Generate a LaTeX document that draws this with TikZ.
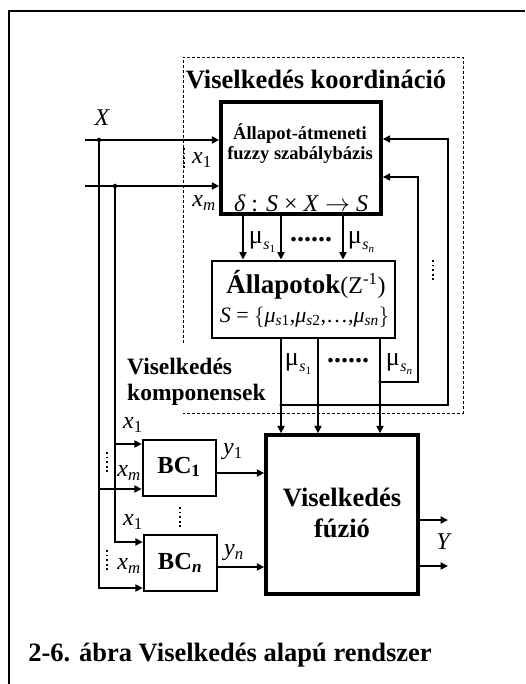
\documentclass[tikz,border=0pt]{standalone}
\usepackage{fontspec}
\setmainfont{Liberation Serif}
\usetikzlibrary{arrows.meta}
\newcommand\fsz[1]{\fontsize{#1}{#1}\selectfont}
\newcommand\sbs[1]{\textsubscript{#1}}
\newcommand\mulab[1]{μ\kern0.5pt\raisebox{-0.22em}{\fsz{16}\textit{s}\raisebox{-0.2em}{\fsz{11}#1}}}
\begin{document}
\begin{tikzpicture}[x=1pt,y=-1pt,
  conn/.style={line width=2.6pt},
  arr/.style={line width=2.6pt,-{Triangle[length=7.5pt,width=7pt]}},
  blk/.style={draw,line width=3.4pt,inner sep=0pt},
  mblk/.style={draw,line width=2.8pt,inner sep=0pt},
  sblk/.style={draw,line width=2.4pt,inner sep=0pt},
  jdot/.style={circle,fill,inner sep=0pt,minimum size=4.5pt},
  lbl/.style={inner sep=0pt},
  vdots/.style={line width=1.8pt,dash pattern=on 1.8pt off 2.8pt},
  frame/.style={line width=1.5pt},
  dbox/.style={line width=0.8pt,dash pattern=on 3pt off 2pt}]
\useasboundingbox (0,0) rectangle (525,684);
% outer frame (only top and left visible)
\draw[frame] (9,684) -- (9,11) -- (525,11);
% dashed coordination box
\draw[dbox] (183,343) -- (183,57) -- (463,57) -- (463,413) -- (183,413);
\node[lbl,font=\fsz{26.5}\bfseries] (title) at (316,79) {Viselkedés koordináció};
% blocks
\node[blk,minimum width=160pt,minimum height=112pt] (rb) at (301,158) {};
\node[mblk,minimum width=183pt,minimum height=77pt] (st) at (303.5,299.5) {};
\node[blk,minimum width=152pt,minimum height=159pt] (fu) at (342,514.5) {};
\node[sblk,minimum width=73pt,minimum height=56pt] (bc1) at (179.5,468) {};
\node[sblk,minimum width=73pt,minimum height=56pt] (bcn) at (180.5,563) {};
% block texts
\node[lbl,font=\fsz{18.5}\bfseries] (rbt1) at (300,134) {Állapot-átmeneti};
\node[lbl,font=\fsz{18.5}\bfseries] (rbt2) at (300,155) {fuzzy szabálybázis};
\node[lbl,font=\fsz{24}] (rbt3) at (301,203) {\textit{δ} : \textit{S} × \textit{X} $\rightarrow$ \textit{S}};
\node[lbl] (stt1) at (306,285) {\fsz{27}\bfseries Állapotok\fsz{24}\mdseries (Z\textsuperscript{-1})};
\node[lbl,font=\fsz{22}] (stt2) at (304.5,317) {\textit{S} = $\big\{$\textit{μ}\sbs{\textit{s}1},\textit{μ}\sbs{\textit{s}2},…,\textit{μ}\sbs{\textit{sn}}$\big\}$};
\node[lbl,font=\fsz{26.5}\bfseries] (fut1) at (342,497) {Viselkedés};
\node[lbl,font=\fsz{26.5}\bfseries] (fut2) at (342,528) {fúzió};
\node[lbl,font=\fsz{24.5}\bfseries] (bc1t) at (179,467) {BC\sbs{1}};
\node[lbl,font=\fsz{24.5}\bfseries] (bcnt) at (180,563) {BC\sbs{\textit{n}}};
% inputs X
\node[lbl,font=\fsz{24}\itshape] (X) at (102,118) {X};
\coordinate (xin1) at (85,140);
\coordinate (xin2) at (85,186);
\coordinate (j1) at (99,140);
\coordinate (j2) at (115,186);
\draw[arr] (xin1) -- (xin1 -| rb.west);
\draw[arr] (xin2) -- (xin2 -| rb.west);
\node[jdot] (d1) at (j1) {};
\node[jdot] (d2) at (j2) {};
\draw[arr] (j1) |- ([yshift=-25pt]bcn.west);
\draw[arr] (j2) |- ([yshift=21pt]bcn.west);
\draw[arr] ([yshift=24pt]bc1.west -| j2) -- ([yshift=24pt]bc1.west);
\draw[arr] ([yshift=-21pt]bc1.west -| j1) -- ([yshift=-21pt]bc1.west);
\node[lbl,font=\fsz{24}] (lx1) at (202,160) {\textit{x}\sbs{1}};
\node[lbl,font=\fsz{24}] (lxm) at (204,203) {\textit{x}\sbs{\textit{m}}};
\draw[vdots] (184,148) -- (184,168);
% BC input labels
\node[lbl,font=\fsz{24}] (b1x1) at (133,425) {\textit{x}\sbs{1}};
\node[lbl,font=\fsz{24}] (b1xm) at (129,473) {\textit{x}\sbs{\textit{m}}};
\node[lbl,font=\fsz{24}] (bnx1) at (133,522) {\textit{x}\sbs{1}};
\node[lbl,font=\fsz{24}] (bnxm) at (129,566) {\textit{x}\sbs{\textit{m}}};
\draw[vdots] (107,452) -- (107,472);
\draw[vdots] (107,550) -- (107,570);
\draw[vdots] (180,507) -- (180,527);
% BC outputs
\draw[arr] ([yshift=-5pt]bc1.east) -- ([yshift=-5pt]bc1.east -| fu.west);
\draw[arr] ([yshift=-4pt]bcn.east) -- ([yshift=-4pt]bcn.east -| fu.west);
\node[lbl,font=\fsz{24}] (ly1) at (233,452) {\textit{y}\sbs{1}};
\node[lbl,font=\fsz{24}] (lyn) at (234,553) {\textit{y}\sbs{\textit{n}}};
% rule base -> states
\foreach \dx in {-58,-20,42}
  \draw[arr] ([xshift=\dx pt]rb.south) -- ([xshift=\dx pt]rb.south |- st.north);
\node[lbl,font=\fsz{26}] (m1) at (262,242) {\mulab{1}};
\node[lbl,font=\fsz{28}\bfseries] (md1) at (311,240) {......};
\node[lbl,font=\fsz{26}] (mn) at (361,242) {\mulab{\textit{n}}};
% states -> fusion
\foreach \dx in {-22.5,14.5,76.5}
  \draw[arr] ([xshift=\dx pt]st.south) -- ([xshift=\dx pt]st.south |- fu.north);
\node[lbl,font=\fsz{26}] (m2) at (298,364) {\mulab{1}};
\node[lbl,font=\fsz{28}\bfseries] (md2) at (348,361) {......};
\node[lbl,font=\fsz{26}] (m2n) at (399,364) {\mulab{\textit{n}}};
% feedback
\coordinate (fb1) at (380,382);
\coordinate (r1) at (418,177);
\coordinate (fb2) at (281,405);
\coordinate (r2) at (448,139);
\draw[arr] (fb1) -| (r1) -- (r1 -| rb.east);
\draw[arr] (fb2) -| (r2) -- (r2 -| rb.east);
\node[jdot,minimum size=3.5pt] (d3) at (fb1) {};
\node[jdot,minimum size=3.5pt] (d4) at (fb2) {};
\draw[vdots] (433,260) -- (433,281);
% components label
\node[lbl,font=\fsz{23.5}\bfseries,anchor=west] (vk1) at (127,367) {Viselkedés};
\node[lbl,font=\fsz{23.5}\bfseries,anchor=west] (vk2) at (127,395) {komponensek};
% outputs Y
\coordinate (yo1) at (448,520);
\coordinate (yo2) at (448,566);
\draw[arr] (yo1 -| fu.east) -- (yo1);
\draw[arr] (yo2 -| fu.east) -- (yo2);
\node[lbl,font=\fsz{24}\itshape] (Y) at (443,542) {Y};
% caption
\node[lbl,font=\fsz{26.5}\bfseries] (cap) at (230,655) {2-6. ábra Viselkedés alapú rendszer};
\end{tikzpicture}
\end{document}
